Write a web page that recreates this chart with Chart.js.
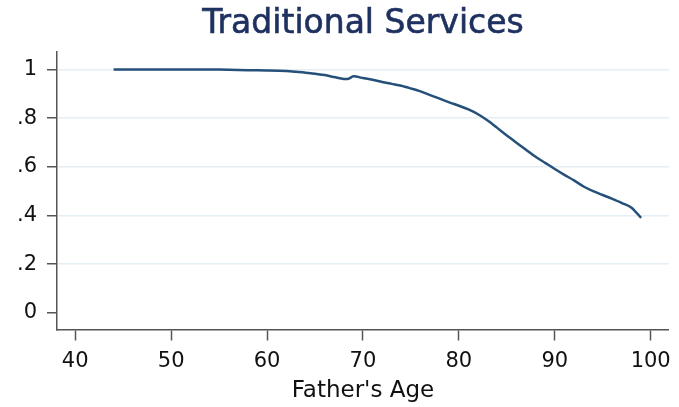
<!DOCTYPE html>
<html>
<head>
<meta charset="utf-8">
<script src="https://cdn.jsdelivr.net/npm/chart.js@4"></script>
<style>
html,body{margin:0;padding:0;background:#fff;}
#wrap{width:679px;height:407px;position:relative;}
</style>
</head>
<body>
<div id="wrap"><canvas id="c" width="679" height="407"></canvas></div>
<script>
const chartTitle = "Traditional Services";
const xAxisTitle = "Father's Age";
const ages = [44,46,48,50,52,54,56,58,60,62,63,64,65,66,67,68,68.5,69,70,71,72,73,74,75,76,77,78,79,80,81,82,83,84,85,86,87,88,89,90,91,92,93,94,95,96,97,98,99];
const shareValues = [1.0,1.0,1.0,1.0,1.0,1.0,0.999,0.997,0.996,0.994,0.991,0.987,0.983,0.977,0.969,0.961,0.962,0.972,0.965,0.958,0.949,0.941,0.933,0.922,0.910,0.895,0.880,0.865,0.851,0.836,0.816,0.790,0.760,0.729,0.699,0.670,0.641,0.616,0.591,0.567,0.544,0.519,0.500,0.484,0.468,0.451,0.432,0.390];
const xTickValues = [40,50,60,70,80,90,100];
const xTickLabels = ["40","50","60","70","80","90","100"];
const yTickValues = [0,0.2,0.4,0.6,0.8,1];
const yTickLabels = ["0",".2",".4",".6",".8","1"];

const points = ages.map((a,i)=>({x:a,y:shareValues[i]}));

const titlePlugin = {
  id:'customTitle',
  afterDraw(chart){
    const ctx = chart.ctx, ca = chart.chartArea;
    ctx.save();
    ctx.fillStyle = '#1e3160';
    ctx.strokeStyle = '#1e3160';
    ctx.lineWidth = 0.6;
    ctx.font = '33px "DejaVu Sans"';
    ctx.textAlign = 'center';
    ctx.textBaseline = 'alphabetic';
    const cx = (ca.left+ca.right)/2;
    ctx.fillText(chartTitle, cx, 33);
    ctx.strokeText(chartTitle, cx, 33);
    ctx.restore();
  }
};

new Chart(document.getElementById('c'), {
  type:'line',
  data:{datasets:[{
    data:points,
    borderColor:'#24507a',
    borderWidth:2.5,
    pointRadius:0,
    tension:0.3,
    fill:false
  }]},
  options:{
    responsive:false,
    animation:false,
    events:[],
    layout:{padding:{left:0,right:9,top:52,bottom:0}},
    plugins:{legend:{display:false},tooltip:{enabled:false},title:{display:false}},
    scales:{
      x:{
        type:'linear',
        min:38.1,max:101.9,
        afterBuildTicks(s){ s.ticks = xTickValues.map(v=>({value:v})); },
        afterFit(s){ s.height = 77.5; },
        ticks:{
          autoSkip:false,maxRotation:0,
          color:'#111',
          font:{family:'DejaVu Sans',size:21},
          padding:8,
          callback(v){ const i = xTickValues.indexOf(v); return i>=0?xTickLabels[i]:''; }
        },
        grid:{drawOnChartArea:false,tickLength:11,tickColor:'#555',tickWidth:1.5},
        border:{color:'#555',width:1.5},
        title:{display:true,text:xAxisTitle,color:'#111',font:{family:'DejaVu Sans',size:23},padding:{top:0,bottom:2}}
      },
      y:{
        type:'linear',
        min:-0.069,max:1.072,
        afterBuildTicks(s){ s.ticks = yTickValues.map(v=>({value:v})); },
        afterFit(s){ s.width = 57; },
        ticks:{
          autoSkip:false,
          color:'#111',
          font:{family:'DejaVu Sans',size:21},
          padding:10,
          callback(v){ const i = yTickValues.indexOf(v); return i>=0?yTickLabels[i]:''; }
        },
        grid:{
          drawOnChartArea:true,
          color(ctx){ return (ctx.tick && ctx.tick.value===0) ? 'rgba(0,0,0,0)' : '#e5eef3'; },
          lineWidth:1.5,
          tickLength:10,tickColor:'#555',tickWidth:1.5
        },
        border:{color:'#555',width:1.5}
      }
    }
  },
  plugins:[titlePlugin]
});
</script>
</body>
</html>
